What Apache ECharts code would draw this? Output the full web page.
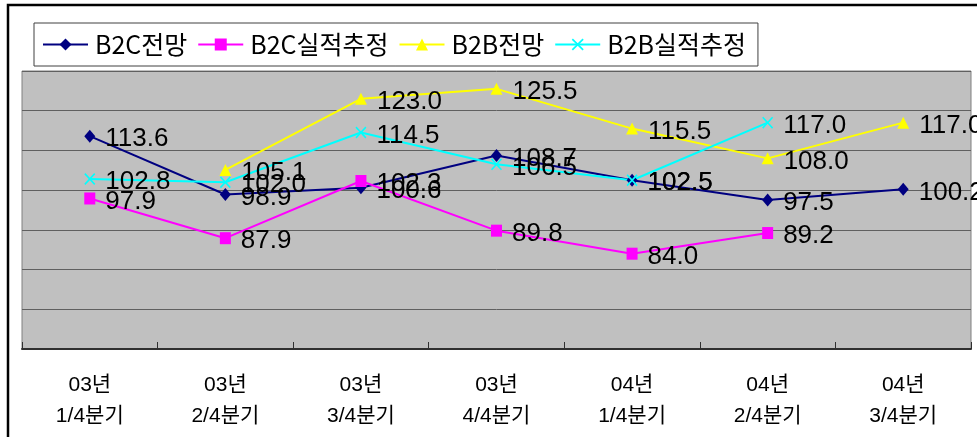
<!DOCTYPE html>
<html>
<head>
<meta charset="utf-8">
<script src="https://cdn.jsdelivr.net/npm/echarts@6/dist/echarts.min.js"></script>
<style>
html, body { margin: 0; padding: 0; background: #fff; }
#chart { width: 977px; height: 437px; }
</style>
</head>
<body>
<div id="chart"></div>
<script>
// Quarter categories (two-line labels)
const quarters = ['03년\n1/4분기', '03년\n2/4분기', '03년\n3/4분기', '03년\n4/4분기', '04년\n1/4분기', '04년\n2/4분기', '04년\n3/4분기'];

// Index values per series
const b2cOutlook = [113.6, 98.9, 100.6, 108.7, 102.5, 97.5, 100.2];
const b2cActual  = [97.9, 87.9, 102.3, 89.8, 84.0, 89.2, null];
const b2bOutlook = [null, 105.1, 123.0, 125.5, 115.5, 108.0, 117.0];
const b2bActual  = [102.8, 102.0, 114.5, 106.5, 102.5, 117.0, null];

const seriesNames = ['B2C전망', 'B2C실적추정', 'B2B전망', 'B2B실적추정'];

const numFont = "'Liberation Sans', Arial, sans-serif";
const cjkFont = "'Liberation Sans', 'Noto Sans CJK KR', sans-serif";

// X-shaped marker built as a filled outline
const crossSymbol = 'path://M0,1L1,0L5,4L9,0L10,1L6,5L10,9L9,10L5,6L1,10L0,9L4,5Z';

const valueLabel = {
  show: true,
  position: 'right',
  distance: 10,
  offset: [0, 3],
  color: '#000',
  fontSize: 26,
  fontFamily: numFont,
  formatter: p => (p.value == null ? '' : Number(p.value).toFixed(1))
};

function lineSeries(name, data, color, symbol, size) {
  return {
    name: name,
    type: 'line',
    data: data,
    symbol: symbol,
    symbolSize: size,
    showAllSymbol: true,
    connectNulls: false,
    lineStyle: { color: color, width: 2 },
    itemStyle: { color: color },
    label: valueLabel,
    emphasis: { disabled: true }
  };
}

const chart = echarts.init(document.getElementById('chart'), null, { renderer: 'canvas' });

chart.setOption({
  animation: false,
  backgroundColor: '#fff',
  graphic: [{
    type: 'rect',
    shape: { x: 8, y: 5, width: 1000, height: 500 },
    style: { fill: 'none', stroke: '#000', lineWidth: 2.5 },
    silent: true,
    z: 100
  }],
  legend: {
    data: seriesNames,
    left: 34,
    top: 23,
    orient: 'horizontal',
    padding: [8, 12, 8, 8],
    itemGap: 10,
    itemWidth: 45,
    itemHeight: 15,
    backgroundColor: '#fff',
    borderColor: '#404040',
    borderWidth: 1,
    textStyle: {
      color: '#000',
      fontSize: 25,
      lineHeight: 27,
      fontFamily: "'Noto Sans CJK KR', sans-serif",
      padding: [0, 0, 0, 2]
    }
  },
  grid: {
    left: 22,
    right: 6,
    top: 71,
    bottom: 88,
    show: true,
    backgroundColor: '#C0C0C0',
    borderColor: '#808080',
    borderWidth: 1
  },
  xAxis: {
    type: 'category',
    data: quarters,
    boundaryGap: true,
    axisLine: { show: true, lineStyle: { color: '#303030', width: 2 } },
    axisTick: { show: true, inside: true, length: 7, lineStyle: { color: '#303030', width: 1 } },
    axisLabel: {
      color: '#000',
      fontSize: 21,
      lineHeight: 31,
      margin: 21,
      fontFamily: cjkFont
    },
    splitLine: { show: false }
  },
  yAxis: {
    type: 'value',
    min: 60,
    max: 130,
    interval: 10,
    axisLine: { show: false },
    axisTick: { show: false },
    axisLabel: { show: false },
    splitLine: { show: true, lineStyle: { color: '#606060', width: 1 } }
  },
  series: [
    lineSeries(seriesNames[0], b2cOutlook, '#000080', 'diamond', [11, 13]),
    lineSeries(seriesNames[1], b2cActual, '#FF00FF', 'rect', [11, 12]),
    lineSeries(seriesNames[2], b2bOutlook, '#FFFF00', 'triangle', [12, 12]),
    lineSeries(seriesNames[3], b2bActual, '#00FFFF', crossSymbol, [11, 12])
  ]
});
</script>
</body>
</html>
